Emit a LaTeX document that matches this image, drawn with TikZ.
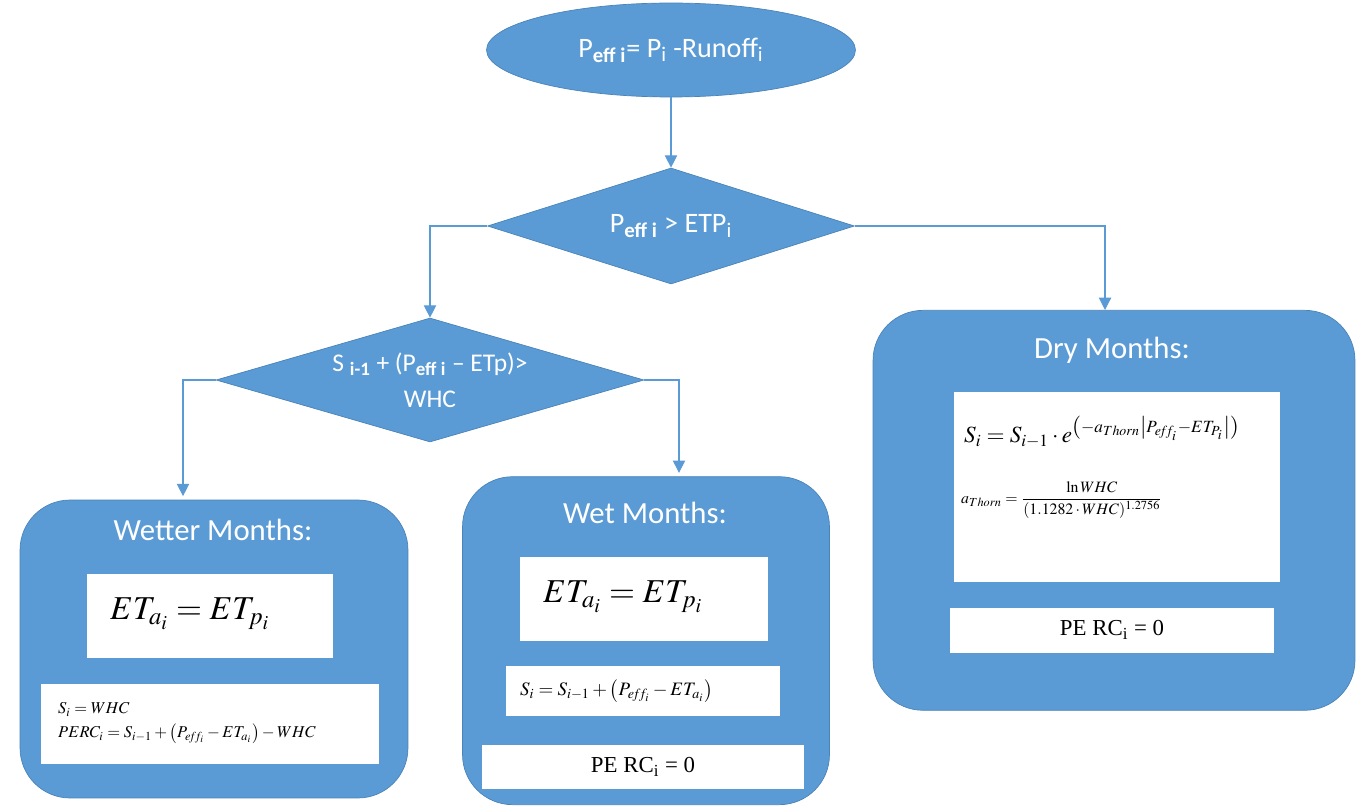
\documentclass[tikz,border=0pt]{standalone}
\usepackage{mathptmx}
\usepackage{fontspec}
\setmainfont{Liberation Serif}
\newfontfamily\calibri{Carlito}
\usetikzlibrary{arrows.meta,positioning,shapes}

\definecolor{boxblue}{HTML}{5B9BD5}
\definecolor{edgeblue}{HTML}{4A83B8}

\begin{document}
\begin{tikzpicture}[x=0.02cm, y=-0.02cm,
    start/.style={ellipse, draw=edgeblue, fill=boxblue, inner sep=0pt, text=white, font=\calibri\fontsize{16}{19}\selectfont},
    decision/.style={diamond, draw=edgeblue, fill=boxblue, inner sep=0pt, text=white, align=center},
    monthbox/.style={rectangle, rounded corners=1cm, draw=edgeblue, fill=boxblue},
    title/.style={text=white, font=\calibri\fontsize{17.5}{20}\selectfont},
    formula/.style={rectangle, fill=white, inner sep=0pt},
    flow/.style={-{Triangle[length=7pt, width=7pt]}, boxblue, semithick}
]
    \useasboundingbox (0,0) rectangle (1365,807);

    % Start and tests
    \node[start, minimum width=7.38cm, minimum height=1.88cm] (runoff) at (671,50)
        {P\textsubscript{\textbf{eff i}}= P\textsubscript{i} -Runoff\textsubscript{i}};
    \node[decision, aspect=3.16, minimum width=7.34cm, minimum height=2.32cm,
        font=\calibri\fontsize{16}{19}\selectfont] (test1) at (671,226)
        {P\textsubscript{\textbf{eff i}} > ETP\textsubscript{i}};
    \node[decision, aspect=3.45, minimum width=8.56cm, minimum height=2.48cm,
        font=\calibri\fontsize{14.5}{20.5}\selectfont] (test2) at (430,380)
        {S \textsubscript{\textbf{i-1}} + (P\textsubscript{\textbf{eff i}} \textendash{} ETp)>\\WHC};

    % Month boxes
    \node[monthbox, minimum width=7.76cm, minimum height=5.96cm] (wetter) at (214,649) {};
    \node[monthbox, minimum width=7.34cm, minimum height=6.56cm] (wet) at (646,805) [anchor=south] {};
    \node[monthbox, minimum width=9.64cm, minimum height=8cm] (dry) at (1114,310) [anchor=north] {};

    \node[title] (wettertitle) at (213,530) {Wetter Months:};
    \node[title] (wettitle) at (645,513) {Wet Months:};
    \node[title] (drytitle) at (1112,350) {Dry Months:};

    % Wetter months
    \node[formula, minimum width=4.94cm, minimum height=1.7cm] (wetterET) at (210,616) {};
    \node[anchor=west, font=\fontsize{19}{23}\selectfont] (wetterETeq) at (104,614) {\(ET_{a_i}=ET_{p_i}\)};
    \node[formula, minimum width=6.78cm, minimum height=1.62cm] (wetterS) at (210,724) {};
    \node[anchor=west, align=left, font=\fontsize{9.4}{13.5}\selectfont] (wetterSeq) at (52,723)
        {\(S_i=WHC\)\\\(PERC_i=S_{i-1}+\bigl(P_{e\!f\!f_i}-ET_{a_i}\bigr)-WHC\)};

    % Wet months
    \node[formula, minimum width=4.96cm, minimum height=1.68cm] (wetET) at (644,599) {};
    \node[anchor=west, font=\fontsize{19}{23}\selectfont] (wetETeq) at (537,597) {\(ET_{a_i}=ET_{p_i}\)};
    \node[formula, minimum width=5.48cm, minimum height=1cm] (wetS) at (643,691) {};
    \node[anchor=west, font=\fontsize{10.8}{13}\selectfont] (wetSeq) at (514,691)
        {\(S_i=S_{i-1}+\bigl(P_{e\!f\!f_i}-ET_{a_i}\bigr)\)};
    \node[formula, minimum width=6.46cm, minimum height=0.88cm, font=\fontsize{13}{15}\selectfont] (wetperc) at (643,767)
        {PE RC\textsubscript{i} = 0};

    % Dry months
    \node[formula, minimum width=6.52cm, minimum height=3.8cm] (dryS) at (1117,487) {};
    \node[anchor=west, font=\fontsize{13.2}{15}\selectfont] (drySeq) at (958,432)
        {\(S_i=S_{i-1}\cdot e^{\left(-a_{Thorn}\left|P_{e\!f\!f_i}-ET_{P_i}\right|\right)}\)};
    \node[anchor=west, font=\fontsize{9}{11}\selectfont] (dryaeq) at (955,500)
        {\(a_{Thorn}=\displaystyle\frac{\ln WHC}{(1.1282\cdot WHC)^{1.2756}}\)};
    \node[formula, minimum width=6.48cm, minimum height=0.9cm, font=\fontsize{13}{15}\selectfont] (dryperc) at (1112,630)
        {PE RC\textsubscript{i} = 0};

    % Connectors
    \draw[flow] (runoff) -- (test1);
    \draw[flow] (test1.west) -| (test2.north);
    \draw[flow] (test1.east) -| ([xshift=-0.18cm]dry.north);
    \draw[flow, shorten >=2pt] (test2.west) -| ([xshift=-0.62cm]wetter.north);
    \draw[flow, shorten >=2pt] (test2.east) -| ([xshift=0.66cm]wet.north);
\end{tikzpicture}
\end{document}
